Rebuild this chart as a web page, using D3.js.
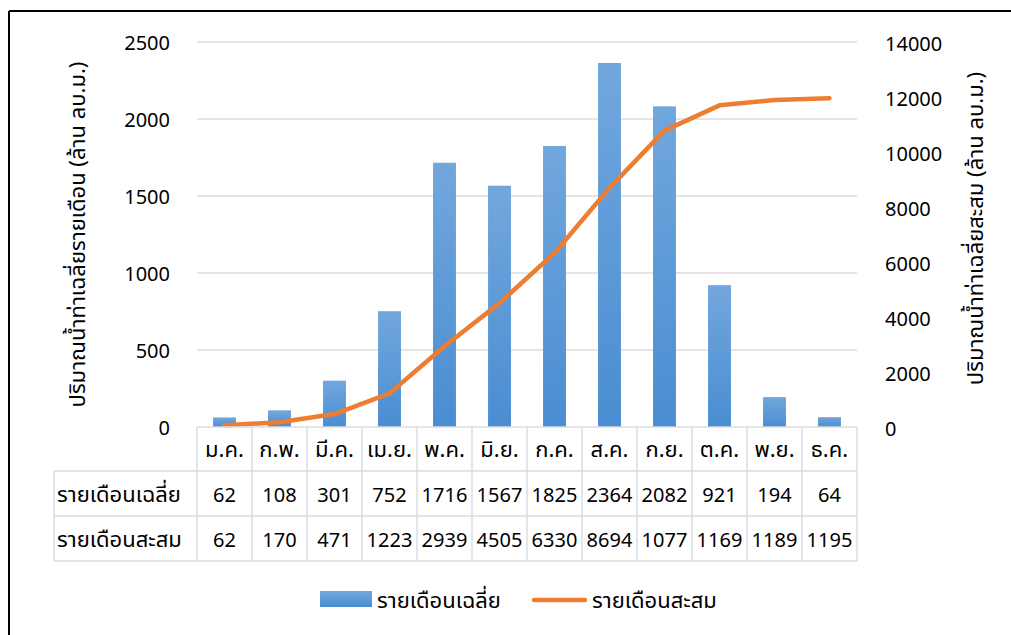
<!DOCTYPE html>
<html>
<head>
<meta charset="utf-8">
<script src="https://cdn.jsdelivr.net/npm/d3@7"></script>
<style>
  html, body { margin: 0; padding: 0; background: #fff; }
  svg { display: block; }
  text { font-family: Tahoma, "Noto Sans Thai", "Leelawadee UI", "Noto Sans", "DejaVu Sans", sans-serif; fill: #000; }
</style>
</head>
<body>
<svg id="chart" width="1011" height="635"></svg>
<script>
// Monthly average and cumulative runoff (million m³)
const months = ["ม.ค.", "ก.พ.", "มี.ค.", "เม.ย.", "พ.ค.", "มิ.ย.", "ก.ค.", "ส.ค.", "ก.ย.", "ต.ค.", "พ.ย.", "ธ.ค."];
const monthlyAvg = [62, 108, 301, 752, 1716, 1567, 1825, 2364, 2082, 921, 194, 64];
const cumulative = [62, 170, 471, 1223, 2939, 4505, 6330, 8694, 10776, 11697, 11891, 11955];
const leftTicks = [0, 500, 1000, 1500, 2000, 2500];
const rightTicks = [0, 2000, 4000, 6000, 8000, 10000, 12000, 14000];
const seriesNames = ["รายเดือนเฉลี่ย", "รายเดือนสะสม"];
const leftTitle = "ปริมาณน้ำท่าเฉลี่ยรายเดือน (ล้าน ลบ.ม.)";
const rightTitle = "ปริมาณน้ำท่าเฉลี่ยสะสม (ล้าน ลบ.ม.)";

const svg = d3.select("#chart");
const W = 1011, H = 635;
const plot = { left: 197, right: 857, top: 42, bottom: 427 };
const rowH = [44, 45, 45];
const labelColLeft = 54;
const numSize = 20;   // digits
const thaiSize = 22;  // Thai labels
const gridColor = "#d9dde3";

// frame
svg.append("line").attr("x1", 9).attr("x2", W).attr("y1", 11).attr("y2", 11)
  .attr("stroke", "#000").attr("stroke-width", 2);
svg.append("line").attr("x1", 9).attr("x2", 9).attr("y1", 11).attr("y2", H)
  .attr("stroke", "#000").attr("stroke-width", 2);

const x = d3.scaleBand().domain(months).range([plot.left, plot.right]).paddingInner(0).paddingOuter(0);
const yL = d3.scaleLinear().domain([0, 2500]).range([plot.bottom, plot.top]);
const yR = d3.scaleLinear().domain([0, 14000]).range([plot.bottom, plot.top]);

// gridlines
svg.append("g").selectAll("line").data(leftTicks.filter(d => d > 0)).join("line")
  .attr("x1", plot.left).attr("x2", plot.right)
  .attr("y1", d => yL(d)).attr("y2", d => yL(d))
  .attr("stroke", gridColor).attr("stroke-width", 1.5);

// left axis tick labels
const axisL = d3.axisLeft(yL).tickValues(leftTicks).tickFormat(d3.format("d")).tickSize(0).tickPadding(27);
const gL = svg.append("g").attr("transform", `translate(${plot.left},0)`).call(axisL);
gL.select(".domain").remove();
gL.selectAll("text").attr("font-size", numSize).attr("dy", "0.38em")
  .style("font-family", null);

// right axis tick labels
const axisR = d3.axisRight(yR).tickValues(rightTicks).tickFormat(d3.format("d")).tickSize(0).tickPadding(28);
const gR = svg.append("g").attr("transform", `translate(${plot.right},0)`).call(axisR);
gR.select(".domain").remove();
gR.selectAll("text").attr("font-size", numSize).attr("dy", "0.42em")
  .style("font-family", null);

// axis titles
svg.append("text").attr("transform", `translate(85,${(plot.top + plot.bottom) / 2}) rotate(-90)`)
  .attr("text-anchor", "middle").attr("font-size", thaiSize).text(leftTitle);
svg.append("text").attr("transform", `translate(983,${(plot.top + plot.bottom) / 2 - 6}) rotate(-90)`)
  .attr("text-anchor", "middle").attr("font-size", thaiSize).text(rightTitle);

// bar gradient
const defs = svg.append("defs");
const grad = defs.append("linearGradient").attr("id", "barGrad")
  .attr("x1", 0).attr("y1", 0).attr("x2", 0).attr("y2", 1);
grad.append("stop").attr("offset", "0%").attr("stop-color", "#72a7dd");
grad.append("stop").attr("offset", "100%").attr("stop-color", "#4a8dd2");

const barW = x.bandwidth() / 2.4;
svg.append("g").selectAll("rect").data(monthlyAvg).join("rect")
  .attr("x", (d, i) => x(months[i]) + (x.bandwidth() - barW) / 2)
  .attr("y", d => yL(d))
  .attr("width", barW)
  .attr("height", d => yL(0) - yL(d))
  .attr("fill", "url(#barGrad)");

// cumulative line
const line = d3.line()
  .x((d, i) => x(months[i]) + x.bandwidth() / 2)
  .y(d => yR(d));
svg.append("path").datum(cumulative)
  .attr("d", line)
  .attr("fill", "none").attr("stroke", "#ed7d31").attr("stroke-width", 4.5)
  .attr("stroke-linecap", "round").attr("stroke-linejoin", "round");

// data table
const tbl = svg.append("g");
const rowTop = [plot.bottom, plot.bottom + rowH[0], plot.bottom + rowH[0] + rowH[1]];
const tblBottom = rowTop[2] + rowH[2];
function hline(x1, x2, y) {
  tbl.append("line").attr("x1", x1).attr("x2", x2).attr("y1", y).attr("y2", y)
    .attr("stroke", gridColor).attr("stroke-width", 1.5);
}
function vline(xp, y1, y2) {
  tbl.append("line").attr("x1", xp).attr("x2", xp).attr("y1", y1).attr("y2", y2)
    .attr("stroke", gridColor).attr("stroke-width", 1.5);
}
hline(plot.left, plot.right, rowTop[0]);
hline(labelColLeft, plot.right, rowTop[1]);
hline(labelColLeft, plot.right, rowTop[2]);
hline(labelColLeft, plot.right, tblBottom);
vline(labelColLeft, rowTop[1], tblBottom);
months.forEach(m => vline(x(m), rowTop[0], tblBottom));
vline(plot.right, rowTop[0], tblBottom);

// cell text, dropping trailing characters that do not fit the cell
function cellText(sel, str, maxW) {
  sel.text(str);
  let s = str;
  while (s.length > 1 && sel.node().getComputedTextLength() > maxW) {
    s = s.slice(0, -1);
    sel.text(s);
  }
}
const mid = i => rowTop[i] + rowH[i] / 2;
months.forEach((m, i) => {
  tbl.append("text").attr("x", x(m) + x.bandwidth() / 2).attr("y", mid(0) + 8)
    .attr("text-anchor", "middle").attr("font-size", thaiSize).text(m);
});
[monthlyAvg, cumulative].forEach((arr, r) => {
  tbl.append("text").attr("x", labelColLeft + 3).attr("y", mid(r + 1) + 8)
    .attr("font-size", thaiSize).text(seriesNames[r]);
  arr.forEach((v, i) => {
    const t = tbl.append("text").attr("x", x(months[i]) + x.bandwidth() / 2).attr("y", mid(r + 1) + 8)
      .attr("text-anchor", "middle").attr("font-size", numSize);
    cellText(t, String(v), x.bandwidth() - 2);
  });
});

// legend
const lg = svg.append("g");
lg.append("rect").attr("x", 320).attr("y", 591).attr("width", 52).attr("height", 16).attr("fill", "url(#barGrad)");
lg.append("text").attr("x", 377).attr("y", 608).attr("font-size", thaiSize).text(seriesNames[0]);
lg.append("line").attr("x1", 534).attr("x2", 585).attr("y1", 600).attr("y2", 600)
  .attr("stroke", "#ed7d31").attr("stroke-width", 4.5).attr("stroke-linecap", "round");
lg.append("text").attr("x", 592).attr("y", 608).attr("font-size", thaiSize).text(seriesNames[1]);
</script>
</body>
</html>
